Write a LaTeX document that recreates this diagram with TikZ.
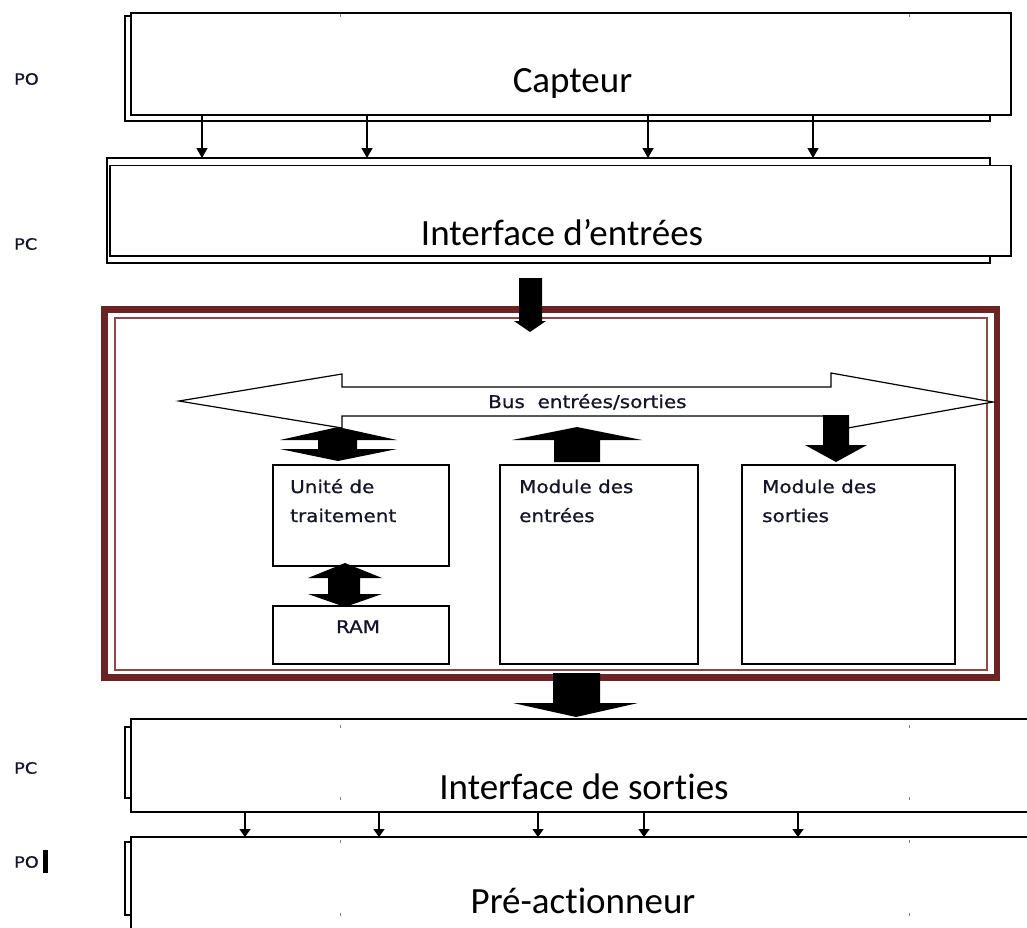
\documentclass[tikz,border=0pt]{standalone}
\usepackage{fontspec}
\setmainfont[Ligatures=NoCommon]{Carlito}
\newfontfamily\smallsans[FakeStretch=1.14,FakeBold=0.8]{DejaVu Sans}
\usetikzlibrary{arrows.meta}
\definecolor{frameRed}{RGB}{107,35,35}
\definecolor{frameThin}{RGB}{140,72,72}
\definecolor{labInk}{RGB}{20,20,40}
\begin{document}
\begin{tikzpicture}[x=1pt,y=-1pt,
  box/.style={draw,line width=1.4pt,fill=white,inner sep=0pt,outer sep=0pt},
  big/.style={font=\fontsize{37}{44}\selectfont,inner sep=0pt},
  small/.style={font=\smallsans\fontsize{17.5}{21}\selectfont,text=labInk,inner sep=0pt},
  side/.style={font=\smallsans\fontsize{15.5}{19}\selectfont,text=labInk,inner sep=0pt},
  thinarrow/.style={line width=1.3pt,-{Triangle[width=11pt,length=10pt]}},
  thinarrowb/.style={line width=1.3pt,-{Triangle[width=11pt,length=8pt]}},
  blockarrow/.style={fill=black,draw=none},
  tickmark/.style={gray,line width=0.8pt}]
\useasboundingbox (0,0) rectangle (1027,927);
\clip (0,0) rectangle (1027,927);

% ---- Capteur ----
\node[box,minimum width=865pt,minimum height=105pt] (capB) at (557.5,68.5) {};
\node[box,minimum width=880pt,minimum height=102pt] (cap) at (571,64) {};
\node[big,anchor=base] (capT) at (572.5,92) {Capteur};

% ---- Interface d'entrees ----
\node[box,minimum width=883pt,minimum height=105pt] (ieB) at (548.5,210.5) {};
\node[box,minimum width=901pt,minimum height=90.5pt] (ie) at (560.5,210.9) {};
\node[big,anchor=base] (ieT) at (562,245) {Interface d’entrées};

\foreach \x/\n in {202/1,367/2,648/3,813/4}{
  \coordinate (ta\n) at (\x,0);
  \draw[thinarrow] (cap.south -| ta\n) -- (ieB.north -| ta\n);
}

% ---- automate frame ----
\node[draw=frameRed,line width=6.5pt,minimum width=892.5pt,minimum height=368pt,inner sep=0pt] (frame) at (550.75,493.5) {};
\node[draw=frameThin,line width=2pt,minimum width=872pt,minimum height=352.5pt,inner sep=0pt] (frameIn) at (550.5,493.75) {};

% bus
\draw[line width=1.2pt,fill=white] (179,401) -- (342,374) -- (342,387) -- (831,387) -- (831,373)
  -- (993,402) -- (831,431) -- (831,416) -- (342,416) -- (342,428) -- cycle;
\node[small,anchor=base west] (bus) at (488,408) {Bus\ \ entrées/sorties};

% inner boxes
\node[box,minimum width=176pt,minimum height=101pt] (ut) at (361,515.5) {};
\node[small,anchor=base west] (ut1) at (290,493) {Unité de};
\node[small,anchor=base west] (ut2) at (290,522) {traitement};

\node[box,minimum width=176pt,minimum height=58pt] (ram) at (361,635) {};
\node[small,anchor=base] (ramT) at (358,633) {RAM};

\node[box,minimum width=198pt,minimum height=199pt] (me) at (599,564.5) {};
\node[small,anchor=base west] (me1) at (519,493) {Module des};
\node[small,anchor=base west] (me2) at (519,522) {entrées};

\node[box,minimum width=213pt,minimum height=199pt] (ms) at (848.5,564.5) {};
\node[small,anchor=base west] (ms1) at (762,493) {Module des};
\node[small,anchor=base west] (ms2) at (762,522) {sorties};

% block arrows
\fill[blockarrow] (519,278) -- (542,278) -- (542,321) -- (546,321) -- (530,332) -- (514,321) -- (519,321) -- cycle;
\fill[blockarrow] (338,427) -- (397,440) -- (357,440) -- (357,449) -- (397,449) -- (338,461)
  -- (280,449) -- (318,449) -- (318,440) -- (280,440) -- cycle;
\fill[blockarrow] (345,563) -- (382,578) -- (360,578) -- (360,594) -- (382,594) -- (345,607)
  -- (308,594) -- (328,594) -- (328,578) -- (308,578) -- cycle;
\fill[blockarrow] (577,427) -- (642,440) -- (600,440) -- (600,462) -- (554,462) -- (554,440) -- (512,440) -- cycle;
\fill[blockarrow] (823,415) -- (849,415) -- (849,445) -- (867,445) -- (836,462) -- (805,445) -- (823,445) -- cycle;
\fill[blockarrow] (553,673) -- (600,673) -- (600,703) -- (638,703) -- (576,717) -- (513,703) -- (553,703) -- cycle;

% ---- Interface de sorties ----
\node[box,minimum width=75pt,minimum height=71pt] (isB) at (162.5,762.5) {};
\node[box,minimum width=909pt,minimum height=93pt] (is) at (585.5,765.5) {};
\node[big,anchor=base] (isT) at (584,799) {Interface de sorties};

% ---- Pre-actionneur ----
\node[box,minimum width=75pt,minimum height=73pt] (paB) at (162.5,878.5) {};
\node[box,minimum width=909pt,minimum height=113pt] (pa) at (585.5,893.5) {};
\node[big,anchor=base] (paT) at (583,913) {Pré-actionneur};

\foreach \x/\n in {245/1,379/2,538/3,644/4,798/5}{
  \coordinate (tb\n) at (\x,0);
  \draw[thinarrowb] (is.south -| tb\n) -- (pa.north -| tb\n);
}

% tick artefacts
\foreach \x in {340,909}{
  \draw[tickmark] (\x,14) -- (\x,17);
  \draw[tickmark] (\x,725) -- (\x,728);
  \draw[tickmark] (\x,797) -- (\x,800);
  \draw[tickmark] (\x,840) -- (\x,843);
  \draw[tickmark] (\x,913) -- (\x,916);
}

% side labels
\node[side,anchor=west] (po1) at (14,79) {PO};
\node[side,anchor=west] (pc1) at (14,244) {PC};
\node[side,anchor=west] (pc2) at (14,768) {PC};
\node[side,anchor=west] (po2) at (14,862) {PO};
\fill (43,850) rectangle (48,873);
\end{tikzpicture}
\end{document}
